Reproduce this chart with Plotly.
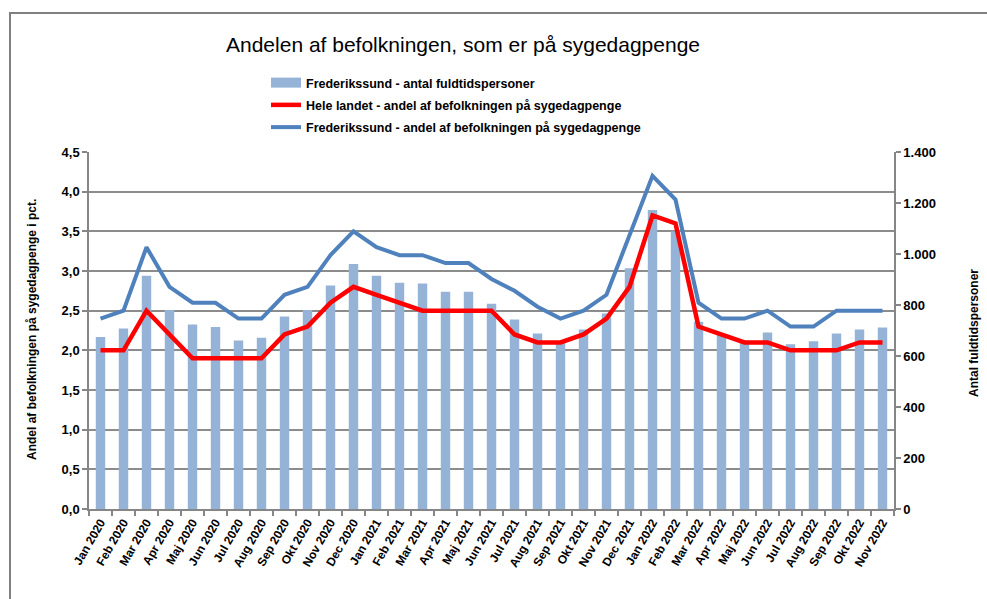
import plotly.graph_objects as go

months = ["Jan 2020", "Feb 2020", "Mar 2020", "Apr 2020", "Maj 2020", "Jun 2020", "Jul 2020", "Aug 2020",
          "Sep 2020", "Okt 2020", "Nov 2020", "Dec 2020", "Jan 2021", "Feb 2021", "Mar 2021", "Apr 2021",
          "Maj 2021", "Jun 2021", "Jul 2021", "Aug 2021", "Sep 2021", "Okt 2021", "Nov 2021", "Dec 2021",
          "Jan 2022", "Feb 2022", "Mar 2022", "Apr 2022", "Maj 2022", "Jun 2022", "Jul 2022", "Aug 2022",
          "Sep 2022", "Okt 2022", "Nov 2022"]

fuldtid_frederikssund = [675, 708, 915, 780, 724, 714, 661, 672, 755, 780, 876, 961, 915, 887, 884, 852,
                         852, 805, 743, 688, 655, 704, 767, 944, 1173, 1088, 734, 682, 660, 692, 646, 658,
                         688, 704, 712]

andel_hele_landet = [2.0, 2.0, 2.5, 2.2, 1.9, 1.9, 1.9, 1.9, 2.2, 2.3, 2.6, 2.8, 2.7, 2.6, 2.5, 2.5,
                     2.5, 2.5, 2.2, 2.1, 2.1, 2.2, 2.4, 2.8, 3.7, 3.6, 2.3, 2.2, 2.1, 2.1, 2.0, 2.0,
                     2.0, 2.1, 2.1]

andel_frederikssund = [2.4, 2.5, 3.3, 2.8, 2.6, 2.6, 2.4, 2.4, 2.7, 2.8, 3.2, 3.5, 3.3, 3.2, 3.2, 3.1,
                       3.1, 2.9, 2.75, 2.55, 2.4, 2.5, 2.7, 3.45, 4.2, 3.9, 2.6, 2.4, 2.4, 2.5, 2.3, 2.3,
                       2.5, 2.5, 2.5]

left_ticks = [0, 0.5, 1.0, 1.5, 2.0, 2.5, 3.0, 3.5, 4.0, 4.5]
right_ticks = [0, 200, 400, 600, 800, 1000, 1200, 1400]

FONT = "Liberation Sans"
W, H = 987, 599
L, R, T, B = 89, 93, 152, 90
PW, PH = W - L - R, H - T - B

BAR_COLOR = "#95B3D7"
RED = "#FF0000"
BLUE = "#4F81BD"


def px(x):
    return (x - L) / PW


def py(y):
    return (H - B - y) / PH


fig = go.Figure()

fig.add_trace(go.Bar(
    x=months, y=fuldtid_frederikssund, name="Frederikssund - antal fuldtidspersoner",
    marker=dict(color=BAR_COLOR, line=dict(width=0)), yaxis="y", showlegend=False,
))
# legend proxy for the bars (wide rectangle symbol like the original)
fig.add_trace(go.Scatter(
    x=[None], y=[None], name="Frederikssund - antal fuldtidspersoner", mode="lines",
    line=dict(color=BAR_COLOR, width=10), yaxis="y2", legendgroup="a", legendrank=1,
))
fig.add_trace(go.Scatter(
    x=months, y=andel_hele_landet, name="Hele landet - andel af befolkningen på sygedagpenge",
    mode="lines", line=dict(color=RED, width=4.5), yaxis="y2", legendgroup="b", legendrank=2,
))
fig.add_trace(go.Scatter(
    x=months, y=andel_frederikssund, name="Frederikssund - andel af befolkningen på sygedagpenge",
    mode="lines", line=dict(color=BLUE, width=4), yaxis="y2", legendgroup="c", legendrank=3,
))

tickfont = dict(family=FONT, size=13, color="#000000", weight="bold")

fig.update_layout(
    width=W, height=H,
    margin=dict(l=L, r=R, t=T, b=B, autoexpand=False),
    paper_bgcolor="white", plot_bgcolor="white",
    separators=",.",
    bargap=0.59,
    showlegend=True,
    legend=dict(
        x=px(266), y=py(68), xanchor="left", yanchor="top",
        font=dict(family=FONT, size=12.5, color="#000000", weight="bold"),
        bgcolor="rgba(0,0,0,0)", traceorder="grouped", tracegroupgap=3, itemwidth=30,
    ),
    xaxis=dict(
        type="category", tickangle=-60, tickfont=dict(family=FONT, size=12, color="#000000", weight="bold"),
        showline=True, linecolor="#868686", linewidth=1.5,
        ticks="outside", ticklen=5, tickcolor="#868686", tickwidth=1.5, tickson="boundaries",
        showgrid=False, range=[-0.5, len(months) - 0.5],
    ),
    yaxis=dict(
        side="right", range=[0, 1400], tickvals=right_ticks, tickformat=",d",
        tickfont=tickfont, showgrid=False, zeroline=False,
        showline=True, linecolor="#868686", linewidth=1.5,
        ticks="outside", ticklen=5, tickcolor="#868686", tickwidth=1.5,
    ),
    yaxis2=dict(
        overlaying="y", side="left", range=[0, 4.5], tickvals=left_ticks, tickformat=".1f",
        tickfont=tickfont, showgrid=True, gridcolor="#8C8C8C", gridwidth=1.5, zeroline=False,
        showline=True, linecolor="#868686", linewidth=1.5,
        ticks="outside", ticklen=5, tickcolor="#868686", tickwidth=1.5,
    ),
    annotations=[
        dict(text="Andelen af befolkningen, som er på sygedagpenge", xref="paper", yref="paper",
             x=px(463), y=py(45), xanchor="center", yanchor="middle", showarrow=False,
             font=dict(family=FONT, size=21, color="#000000")),
        dict(text="Andel af befolkningen på sygedagpenge i pct.", xref="paper", yref="paper",
             x=px(32), y=py(330), xanchor="center", yanchor="middle", showarrow=False, textangle=-90,
             font=dict(family=FONT, size=12, color="#000000", weight="bold")),
        dict(text="Antal fuldtidspersoner", xref="paper", yref="paper",
             x=px(974), y=py(333), xanchor="center", yanchor="middle", showarrow=False, textangle=-90,
             font=dict(family=FONT, size=12, color="#000000", weight="bold")),
    ],
    shapes=[
        dict(type="rect", xref="paper", yref="paper", x0=px(10), x1=px(1000), y0=py(620), y1=py(13),
             line=dict(color="#808080", width=2), fillcolor="rgba(0,0,0,0)", layer="below"),
    ],
)

fig.write_html("out.html", config={"displayModeBar": False},
               post_script="document.body.style.margin='0';document.body.style.overflow='hidden';")
